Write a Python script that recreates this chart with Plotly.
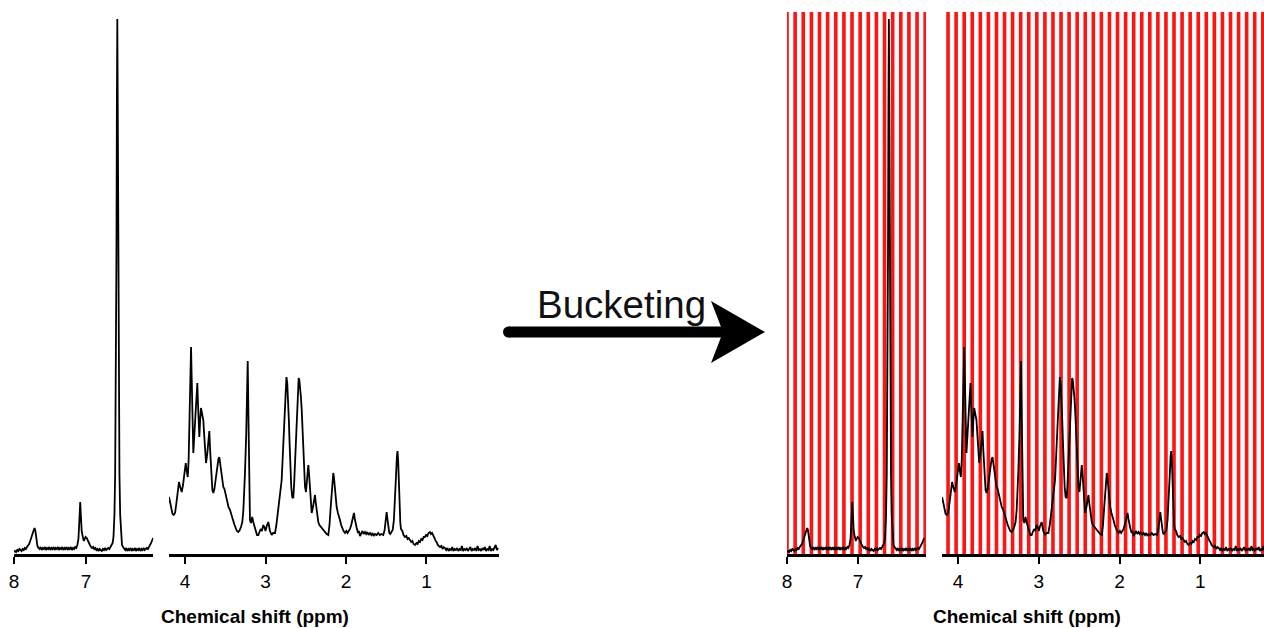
import plotly.graph_objects as go

# ---------------- data ----------------
# (chemical shift ppm, intensity) points
high_region = [
    (8.00, 3), (7.985, 4), (7.97, 3), (7.955, 5), (7.94, 4), (7.925, 6), (7.91, 5), (7.895, 4),
    (7.88, 6), (7.865, 5), (7.85, 7), (7.835, 6), (7.82, 8), (7.805, 9), (7.79, 11), (7.775, 14),
    (7.76, 18), (7.745, 22), (7.73, 24), (7.715, 27), (7.705, 25), (7.695, 20), (7.685, 14),
    (7.675, 9), (7.66, 7), (7.645, 6), (7.63, 8), (7.615, 5), (7.60, 7), (7.585, 6), (7.57, 8),
    (7.555, 5), (7.54, 7), (7.525, 6), (7.51, 8), (7.495, 5), (7.48, 7), (7.465, 6), (7.45, 8),
    (7.435, 5), (7.42, 7), (7.405, 6), (7.39, 8), (7.375, 5), (7.36, 7), (7.345, 6), (7.33, 8),
    (7.315, 5), (7.30, 7), (7.285, 6), (7.27, 8), (7.255, 5), (7.24, 7), (7.225, 6), (7.21, 8),
    (7.195, 5), (7.18, 7), (7.165, 6), (7.15, 8), (7.135, 7), (7.12, 10), (7.105, 16), (7.095, 30),
    (7.085, 48), (7.08, 53), (7.075, 45), (7.068, 30), (7.06, 24), (7.05, 20), (7.04, 15),
    (7.03, 14), (7.02, 16), (7.005, 18), (6.99, 17), (6.975, 14), (6.96, 12), (6.945, 10),
    (6.93, 8), (6.915, 7), (6.90, 8), (6.885, 6), (6.87, 7), (6.855, 5), (6.84, 6), (6.825, 4),
    (6.81, 6), (6.795, 5), (6.78, 4), (6.765, 6), (6.75, 5), (6.735, 7), (6.72, 5), (6.705, 6),
    (6.69, 7), (6.675, 6), (6.66, 8), (6.645, 9), (6.63, 12), (6.618, 18), (6.605, 40),
    (6.595, 80), (6.585, 160), (6.577, 300), (6.571, 450), (6.565, 536), (6.559, 450),
    (6.553, 300), (6.545, 160), (6.535, 80), (6.525, 40), (6.512, 18), (6.50, 10), (6.485, 8),
    (6.47, 6), (6.455, 5), (6.44, 7), (6.425, 4), (6.41, 6), (6.395, 5), (6.38, 7), (6.365, 4),
    (6.35, 6), (6.335, 5), (6.32, 7), (6.305, 4), (6.29, 6), (6.275, 5), (6.26, 7), (6.245, 4),
    (6.23, 6), (6.215, 5), (6.20, 7), (6.185, 5), (6.17, 6), (6.155, 7), (6.14, 6), (6.125, 8),
    (6.11, 9), (6.095, 12), (6.08, 15), (6.065, 17),
]

low_region = [
    (4.199, 58), (4.185, 52), (4.17, 45), (4.155, 41), (4.14, 40), (4.124, 42), (4.11, 50),
    (4.09, 62), (4.075, 73), (4.06, 68), (4.041, 63), (4.025, 70), (4.015, 76), (4.00, 84),
    (3.991, 92), (3.98, 85), (3.966, 78), (3.955, 95), (3.945, 125), (3.935, 170), (3.925, 208),
    (3.918, 180), (3.91, 140), (3.902, 110), (3.897, 102), (3.89, 112), (3.876, 130), (3.86, 150),
    (3.847, 172), (3.838, 150), (3.83, 125), (3.822, 118), (3.812, 135), (3.801, 147), (3.79, 142),
    (3.773, 135), (3.76, 118), (3.75, 100), (3.739, 92), (3.725, 100), (3.71, 115), (3.698, 124),
    (3.688, 105), (3.675, 80), (3.66, 65), (3.648, 62), (3.635, 66), (3.62, 75), (3.60, 88),
    (3.585, 96), (3.574, 98), (3.56, 90), (3.545, 78), (3.535, 72), (3.524, 68), (3.51, 66),
    (3.491, 60), (3.475, 52), (3.46, 48), (3.441, 45), (3.425, 40), (3.41, 36), (3.40, 35),
    (3.385, 30), (3.37, 27), (3.355, 24), (3.338, 23), (3.32, 25), (3.305, 28), (3.288, 33),
    (3.275, 45), (3.265, 62), (3.255, 82), (3.24, 120), (3.228, 175), (3.221, 194), (3.214, 150),
    (3.205, 80), (3.193, 35), (3.18, 32), (3.165, 38), (3.152, 33), (3.135, 27), (3.12, 24),
    (3.105, 20), (3.089, 20), (3.075, 23), (3.06, 26), (3.045, 24), (3.027, 30), (3.01, 27),
    (3.00, 24), (2.985, 29), (2.965, 33), (2.945, 24), (2.923, 20), (2.905, 22), (2.882, 22),
    (2.865, 30), (2.85, 40), (2.841, 43), (2.825, 55), (2.81, 65), (2.799, 75), (2.785, 100),
    (2.775, 120), (2.766, 132), (2.755, 160), (2.748, 175), (2.74, 178), (2.73, 172), (2.72, 158),
    (2.71, 135), (2.70, 110), (2.69, 85), (2.68, 68), (2.668, 58), (2.655, 57), (2.645, 70),
    (2.635, 90), (2.625, 112), (2.615, 135), (2.605, 158), (2.595, 174), (2.588, 177), (2.58, 175),
    (2.57, 168), (2.56, 158), (2.55, 145), (2.54, 128), (2.53, 110), (2.52, 85), (2.509, 68),
    (2.497, 63), (2.485, 75), (2.475, 88), (2.468, 90), (2.458, 80), (2.445, 62), (2.435, 48),
    (2.426, 42), (2.41, 48), (2.398, 56), (2.385, 60), (2.375, 52), (2.36, 40), (2.344, 33),
    (2.33, 30), (2.31, 28), (2.295, 26), (2.282, 25), (2.26, 22), (2.24, 21), (2.22, 20),
    (2.205, 30), (2.19, 48), (2.175, 68), (2.163, 80), (2.158, 82), (2.15, 78), (2.14, 68),
    (2.128, 56), (2.116, 48), (2.10, 42), (2.09, 38), (2.075, 35), (2.06, 30), (2.045, 26),
    (2.03, 24), (2.012, 22), (1.995, 24), (1.98, 22), (1.965, 24), (1.95, 26), (1.935, 30),
    (1.915, 38), (1.901, 42), (1.89, 36), (1.878, 30), (1.867, 27), (1.85, 22), (1.84, 24),
    (1.826, 19), (1.81, 21), (1.795, 24), (1.78, 21), (1.764, 23), (1.75, 21), (1.735, 23),
    (1.72, 20), (1.702, 22), (1.685, 20), (1.67, 22), (1.655, 19), (1.64, 21), (1.619, 20),
    (1.60, 22), (1.58, 20), (1.56, 21), (1.537, 20), (1.52, 25), (1.505, 36), (1.495, 43),
    (1.485, 36), (1.475, 26), (1.462, 22), (1.45, 21), (1.435, 23), (1.42, 25), (1.405, 35),
    (1.39, 55), (1.378, 80), (1.368, 98), (1.36, 104), (1.352, 95), (1.345, 75), (1.335, 50),
    (1.325, 32), (1.317, 26), (1.30, 24), (1.285, 20), (1.267, 18), (1.25, 19), (1.235, 16),
    (1.22, 17), (1.205, 15), (1.19, 13), (1.175, 14), (1.16, 11), (1.143, 10), (1.125, 12),
    (1.11, 11), (1.095, 14), (1.081, 13), (1.065, 16), (1.05, 15), (1.035, 18), (1.019, 18),
    (1.005, 20), (0.99, 19), (0.975, 22), (0.957, 23), (0.945, 21), (0.93, 22), (0.916, 20),
    (0.90, 17), (0.885, 14), (0.874, 13), (0.86, 10), (0.845, 9), (0.832, 8), (0.815, 9),
    (0.80, 6), (0.785, 8), (0.77, 7), (0.755, 5), (0.74, 7), (0.725, 4), (0.71, 6), (0.695, 5),
    (0.68, 8), (0.665, 4), (0.65, 6), (0.635, 5), (0.62, 7), (0.605, 4), (0.59, 6), (0.575, 5),
    (0.56, 9), (0.545, 4), (0.53, 6), (0.515, 5), (0.50, 7), (0.485, 4), (0.47, 6), (0.455, 8),
    (0.44, 4), (0.425, 6), (0.41, 5), (0.395, 7), (0.38, 4), (0.365, 9), (0.35, 5), (0.335, 6),
    (0.32, 4), (0.305, 7), (0.29, 5), (0.275, 8), (0.26, 4), (0.245, 6), (0.23, 5), (0.215, 9),
    (0.20, 4), (0.185, 6), (0.17, 5), (0.155, 8), (0.14, 10), (0.125, 5), (0.11, 7),
]

shift_high = [p for p, _ in high_region]
intensity_high = [v for _, v in high_region]
shift_low = [p for p, _ in low_region]
intensity_low = [v for _, v in low_region]

high_ticks = [8, 7]
low_ticks = [4, 3, 2, 1]

# bucket edges (ppm) shown as red lines
bucket_start_high = 8.0
bucket_width_high = 0.1145
n_buckets_high = 18
bucket_start_low = 4.125
bucket_width_low = 0.1
n_buckets_low = 40

bucket_edges_high = [bucket_start_high - k * bucket_width_high for k in range(n_buckets_high)]
bucket_edges_low = [bucket_start_low - k * bucket_width_low for k in range(n_buckets_low)]

# ---------------- layout ----------------
W, H = 1264, 628
FONT = "Arial, Liberation Sans, Helvetica, sans-serif"


def fx(px):
    return px / W


def fy(py):
    return 1 - py / H


y_dom = [fy(554), fy(12)]
y_range = [1, 543]

panels = {
    "x": ((14, 153.3), [8.0, 6.065], high_ticks),
    "x2": ((169, 499), [4.199, 0.099], low_ticks),
    "x3": ((787, 926), [8.0, 6.042], high_ticks),
    "x4": ((942, 1264), [4.2, 0.21], low_ticks),
}

fig = go.Figure()
line_style = dict(color="black", width=1.8)
for ax, (shift, inten) in zip(["x", "x2", "x3", "x4"],
                              [(shift_high, intensity_high), (shift_low, intensity_low),
                               (shift_high, intensity_high), (shift_low, intensity_low)]):
    yax = "y" + ax[1:]
    fig.add_trace(go.Scatter(x=shift, y=inten, mode="lines", line=line_style,
                             xaxis=ax, yaxis=yax, showlegend=False, hoverinfo="skip"))

layout = dict(width=W, height=H, margin=dict(l=0, r=0, t=0, b=0, autoexpand=False),
              paper_bgcolor="white", plot_bgcolor="white", showlegend=False)
for ax, ((p0, p1), rng, ticks) in panels.items():
    key = "xaxis" if ax == "x" else "xaxis" + ax[1:]
    ykey = "yaxis" if ax == "x" else "yaxis" + ax[1:]
    yname = "y" + ax[1:]
    layout[key] = dict(domain=[fx(p0), fx(p1)], range=rng, anchor=yname, automargin=False,
                       showgrid=False, zeroline=False, showline=True, linecolor="black",
                       linewidth=3, ticks="outside", ticklen=7, tickwidth=2, tickcolor="black",
                       tickvals=ticks, ticktext=[str(t) for t in ticks],
                       tickfont=dict(family=FONT, size=19, color="black"),
                       ticklabelstandoff=1, fixedrange=True)
    layout[ykey] = dict(domain=y_dom, range=y_range, anchor=ax, visible=False, automargin=False,
                        showgrid=False, zeroline=False, fixedrange=True)
fig.update_layout(**layout)

# red bucket lines
shapes = []
for ax, edges in [("x3", bucket_edges_high), ("x4", bucket_edges_low)]:
    yname = "y" + ax[1:]
    for e in edges:
        shapes.append(dict(type="line", xref=ax, yref=yname + " domain", x0=e, x1=e, y0=0, y1=1,
                           line=dict(color="#ff1414", width=3.6), layer="below"))

# arrow
shapes.append(dict(type="path", xref="paper", yref="paper",
                   path=f"M {fx(508.5)},{fy(326.5)} L {fx(724)},{fy(326.5)} L {fx(724)},{fy(337.5)} "
                        f"L {fx(508.5)},{fy(337.5)} Z",
                   fillcolor="black", line=dict(width=0)))
shapes.append(dict(type="circle", xref="paper", yref="paper",
                   x0=fx(503), x1=fx(514), y0=fy(337.5), y1=fy(326.5),
                   fillcolor="black", line=dict(width=0)))
shapes.append(dict(type="path", xref="paper", yref="paper",
                   path=f"M {fx(765)},{fy(332)} L {fx(711)},{fy(301)} L {fx(723)},{fy(332)} "
                        f"L {fx(711)},{fy(363)} Z",
                   fillcolor="black", line=dict(width=0)))
fig.update_layout(shapes=shapes)

annotations = [
    dict(text="Bucketing", x=fx(621), y=fy(305), xref="paper", yref="paper",
         xanchor="center", yanchor="middle", showarrow=False,
         font=dict(family=FONT, size=38.5, color="#111111")),
    dict(text="<b>Chemical shift (ppm)</b>", x=fx(255), y=fy(616), xref="paper", yref="paper",
         xanchor="center", yanchor="middle", showarrow=False,
         font=dict(family=FONT, size=19, color="black")),
    dict(text="<b>Chemical shift (ppm)</b>", x=fx(1027), y=fy(616), xref="paper", yref="paper",
         xanchor="center", yanchor="middle", showarrow=False,
         font=dict(family=FONT, size=19, color="black")),
]
fig.update_layout(annotations=annotations)

fig.write_html("out.html", config={"displayModeBar": False})
